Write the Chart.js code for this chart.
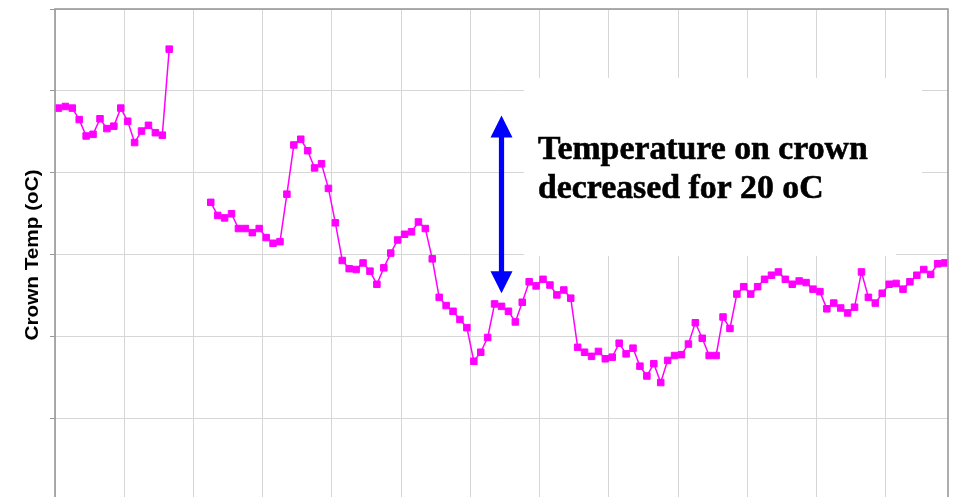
<!DOCTYPE html>
<html>
<head>
<meta charset="utf-8">
<script src="https://cdn.jsdelivr.net/npm/chart.js@4/dist/chart.umd.min.js"></script>
<style>
  html, body { margin: 0; padding: 0; background: #fff; overflow: hidden; }
  #wrap { width: 959px; height: 497px; overflow: hidden; }
</style>
</head>
<body>
<div id="wrap"><canvas id="chart" width="959" height="510"></canvas></div>
<script>
// crown temperature readings (oC), one per sample, null = no reading
const crownTemp = [
  47.9, 48.1, 47.9, 46.5, 44.5, 44.7, 46.6, 45.4, 45.7, 47.9, 46.3, 43.7, 45.1, 45.8, 44.9, 44.6, 55.1,
  null, null, null, null, null,
  36.4, 34.8, 34.5, 35.0, 33.2, 33.2, 32.7, 33.2, 32.1, 31.4, 31.6, 37.4, 43.4, 44.1, 42.7, 40.6, 41.1, 38.1, 33.9, 29.3,
  28.3, 28.2, 29.0, 28.0, 26.4, 28.4, 30.2, 31.8, 32.5, 32.8, 34.0, 33.2, 29.5, 24.8, 23.8, 23.1, 22.1, 21.1, 17.0, 18.1, 19.9,
  24.0, 23.7, 23.1, 21.8, 24.2, 26.7, 26.2, 27.0, 26.3, 25.1, 25.7, 24.7, 18.7, 18.1, 17.6, 18.2, 17.3, 17.5, 19.2, 17.9, 18.6, 16.4, 15.2, 16.7, 14.4, 17.1, 17.7,
  17.8, 19.1, 21.7, 19.8, 17.7, 17.7, 22.4, 21.0, 25.2, 26.1, 25.2, 26.1, 27.0, 27.5, 27.9, 27.0, 26.4, 26.8, 26.6, 25.8,
  25.5, 23.4, 24.1, 23.5, 22.9, 23.6, 27.9, 24.8, 24.1, 25.3, 26.4, 26.5, 25.8, 26.7, 27.5, 28.2, 27.6, 28.9, 29.0
];
const samples = crownTemp.map((_, i) => String(i + 1));
const yAxisLabel = "Crown Temp (oC)";
const noteLines = ["Temperature on crown", "decreased for 20 oC"];
// arrow: sample index and the two temperatures it spans
const arrowSample = 64;
const arrowFrom = 47.0;
const arrowTo = 25.3;

const gridColor = "#d6d6d6";
const frameColor = "#999";

// frame, y label, note box and arrow
const decor = {
  id: "decor",
  beforeDatasetsDraw(chart) {
    const ctx = chart.ctx;
    ctx.save();
    ctx.fillStyle = "#fff";
    ctx.fillRect(524, 78, 372, 178);
    ctx.fillRect(896, 78, 26, 174);
    ctx.restore();
  },
  afterDatasetsDraw(chart) {
    const ctx = chart.ctx;
    const a = chart.chartArea;
    const x = chart.scales.x.getPixelForValue(arrowSample);
    const yTop = chart.scales.y.getPixelForValue(arrowFrom);
    const yBot = chart.scales.y.getPixelForValue(arrowTo);
    const head = 22, half = 11, shaft = 2.6;
    ctx.save();
    // double arrow
    ctx.fillStyle = "#0000ff";
    ctx.fillRect(x - shaft, yTop + head - 1, shaft * 2, yBot - yTop - head * 2 + 2);
    ctx.beginPath();
    ctx.moveTo(x, yTop);
    ctx.lineTo(x + half, yTop + head);
    ctx.lineTo(x - half, yTop + head);
    ctx.closePath();
    ctx.fill();
    ctx.beginPath();
    ctx.moveTo(x, yBot);
    ctx.lineTo(x + half, yBot - head);
    ctx.lineTo(x - half, yBot - head);
    ctx.closePath();
    ctx.fill();
    // note text, a thin stroke makes it as heavy as the original
    ctx.fillStyle = "#000";
    ctx.strokeStyle = "#000";
    ctx.lineWidth = 0.6;
    ctx.font = 'bold 33.8px "Liberation Serif", "Times New Roman", serif';
    ctx.textAlign = "left";
    ctx.textBaseline = "alphabetic";
    noteLines.forEach((t, i) => {
      ctx.fillText(t, 538, 159 + i * 39);
      ctx.strokeText(t, 538, 159 + i * 39);
    });
    // frame
    ctx.strokeStyle = frameColor;
    ctx.lineWidth = 1.6;
    ctx.strokeRect(a.left, a.top, a.right - a.left, a.bottom - a.top);
    // y axis label
    ctx.translate(38, 255);
    ctx.rotate(-Math.PI / 2);
    ctx.scale(1.12, 1);
    ctx.font = 'bold 18.5px "Liberation Sans", Arial, sans-serif';
    ctx.textAlign = "center";
    ctx.fillText(yAxisLabel, 0, 0);
    ctx.restore();
  }
};

new Chart(document.getElementById("chart").getContext("2d"), {
  type: "line",
  data: {
    labels: samples,
    datasets: [
      {
        data: crownTemp,
        borderColor: "#ff00ff",
        backgroundColor: "#ff00ff",
        borderWidth: 1.5,
        pointStyle: "rect",
        pointRadius: 4.6,
        pointBorderWidth: 1,
        pointBackgroundColor: "#ff00ff",
        pointBorderColor: "#ff00ff",
        tension: 0,
        spanGaps: false,
      },
    ],
  },
  options: {
    responsive: false,
    animation: false,
    layout: { padding: { top: 9, right: 11, bottom: 9.5, left: 0 } },
    plugins: { legend: { display: false }, tooltip: { enabled: false } },
    scales: {
      x: {
        type: "category",
        offset: true,
        ticks: { display: false, autoSkip: false },
        grid: {
          offset: true,
          drawTicks: false,
          color: (c) => (c.index !== undefined && c.index % 10 === 0 ? gridColor : "rgba(0,0,0,0)"),
        },
        border: { display: false },
      },
      y: {
        min: 0,
        max: 60,
        ticks: { display: false, stepSize: 10 },
        grid: { color: gridColor, tickLength: 5, tickColor: frameColor },
        border: { display: false },
        afterFit(scale) { scale.width = 55; },
      },
    },
  },
  plugins: [decor],
});
</script>
</body>
</html>
